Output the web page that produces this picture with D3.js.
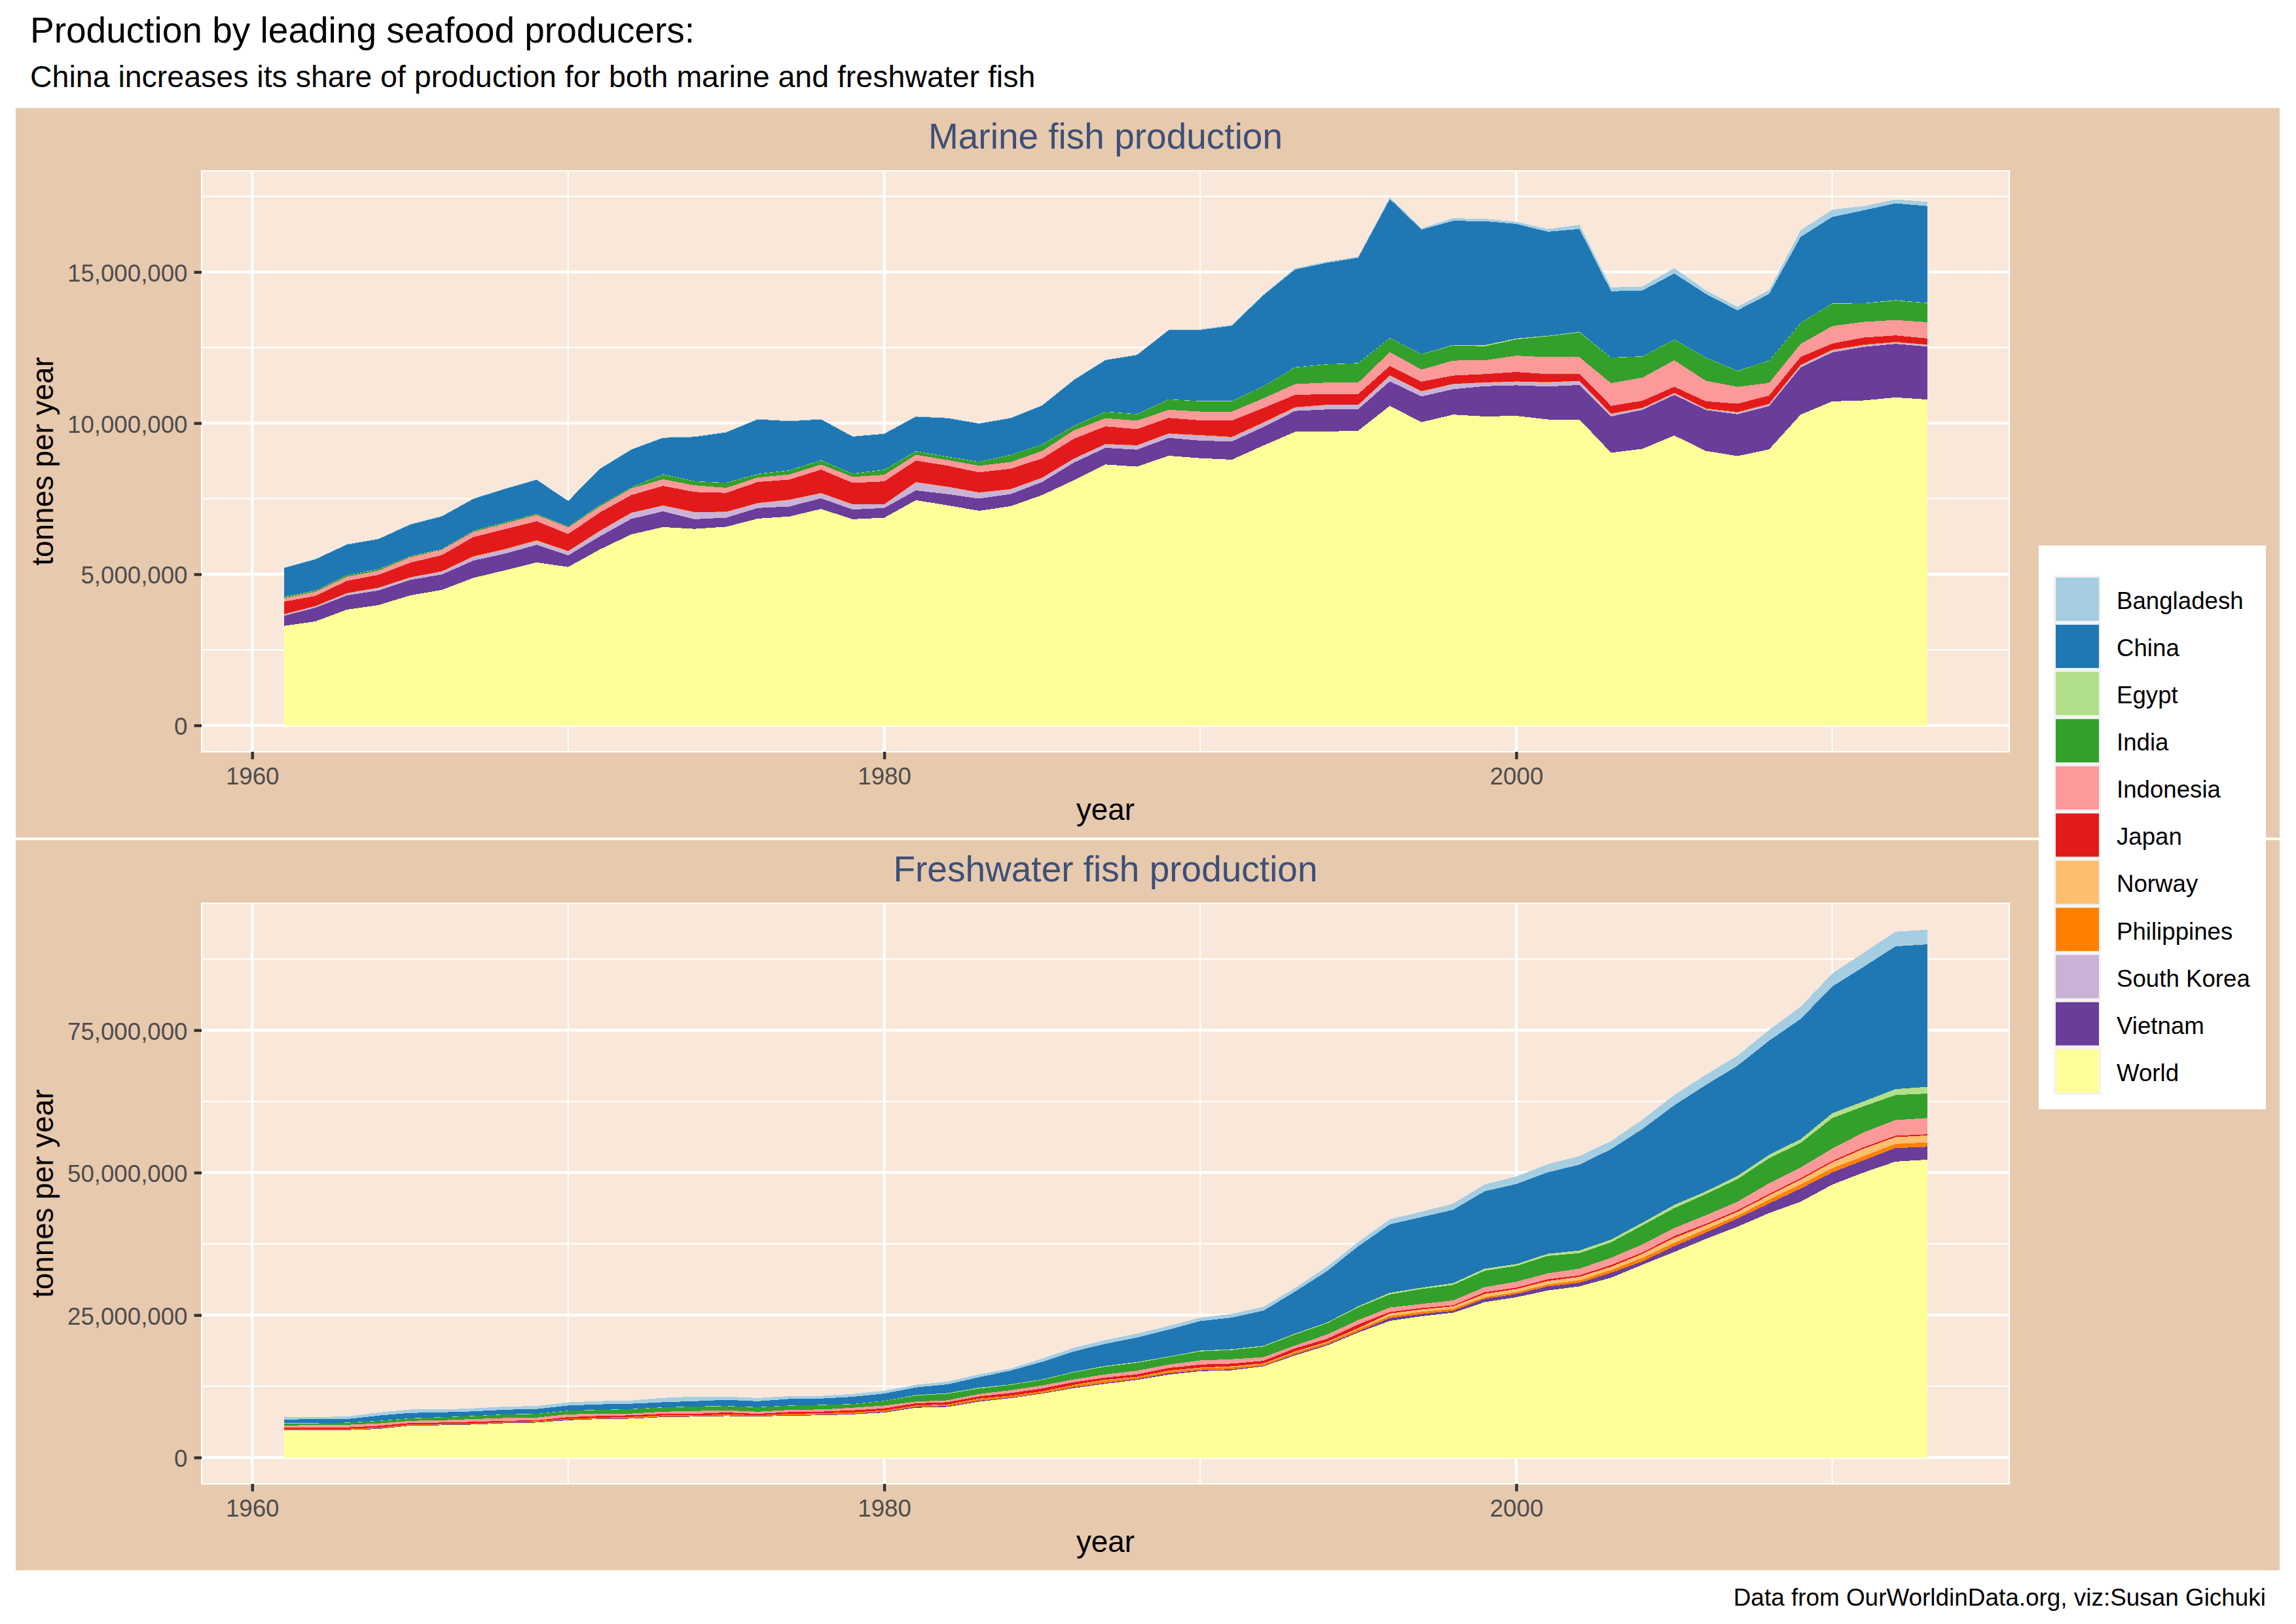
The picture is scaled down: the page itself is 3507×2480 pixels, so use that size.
<!DOCTYPE html>
<html>
<head>
<meta charset="utf-8">
<title>Seafood production</title>
<script src="https://cdnjs.cloudflare.com/ajax/libs/d3/7.8.5/d3.min.js"></script>
<style>
    body { margin: 0; background: #fff; }
    text { font-family: "Liberation Sans", Arial, sans-serif; }
    .area { shape-rendering: crispEdges; }
    .tick text { fill: #4D4D4D; font-size: 36.67px; }
    .tick line { stroke: #333; stroke-width: 4.4px; }
    .domain { display: none; }
</style>
</head>
<body>
<svg id="chart" width="3507" height="2480"></svg>
<script>
// Values, in million tonnes per year, 1961-2013
let years = d3.range(1961, 2014);

let countries = ["Bangladesh", "China", "Egypt", "India", "Indonesia", "Japan", "Norway", "Philippines", "South Korea", "Vietnam", "World"];

let marineWorld = [3.29,3.44,3.83,3.98,4.30,4.48,4.88,5.13,5.39,5.24,
    5.82,6.32,6.56,6.50,6.57,6.84,6.91,7.16,6.82,6.87,
    7.45,7.28,7.10,7.25,7.62,8.11,8.63,8.56,8.92,8.84,
    8.79,9.26,9.71,9.72,9.75,10.57,10.03,10.28,10.22,10.24,
    10.12,10.12,9.02,9.15,9.59,9.08,8.91,9.13,10.28,10.72,
    10.75,10.85,10.78];
let marineVietnam = [.33,.45,.47,.48,.51,.51,.57,.55,.58,.38,
    .43,.51,.52,.32,.30,.35,.33,.35,.32,.32,
    .32,.37,.40,.40,.43,.58,.55,.56,.59,.58,
    .60,.61,.69,.73,.71,.81,.85,.84,1.00,1.01,
    1.09,1.14,1.20,1.29,1.34,1.35,1.38,1.43,1.56,1.62,
    1.77,1.77,1.75];
let marineKorea = [.05,.05,.07,.09,.08,.10,.13,.14,.14,.14,
    .18,.20,.19,.23,.19,.16,.22,.17,.17,.12,
    .27,.24,.20,.16,.14,.13,.12,.14,.14,.17,
    .14,.14,.11,.15,.14,.19,.17,.17,.12,.12,
    .14,.13,.08,.06,.06,.04,.06,.07,.08,.07,
    .06,.05,.06];
let marinePhilippines = [.01,.01,.01,.01,.01,.01,.02,.02,.02,.01,
    .01,.01,.01,.01,.01,.01,.01,.01,.01,.01,
    .01,.01,.01,.01,.01,.01,.01,.01,.01,.02,
    .02,.02,.02,.01,.01,.01,.01,.01,.01,.01,
    .01,.01,.02,.01,.01,.02,.02,.01,.01,.02,
    .02,.02,.01];
let marineNorway = [0,0,0,0,0,0,0,0,0,0,
    0,0,0,0,0,0,0,0,0,0,
    0,0,0,0,0,0,0,0,0,0,
    0,0,0,0,0,0,0,0,0,0,
    0,0,0,0,0,0,0,0,0,0,
    0,0,0];
let marineJapan = [.41,.33,.40,.42,.48,.53,.63,.65,.62,.56,
    .60,.58,.64,.66,.62,.69,.66,.77,.70,.75,
    .71,.69,.66,.67,.63,.65,.58,.53,.51,.48,
    .53,.47,.40,.35,.35,.31,.31,.27,.27,.31,
    .26,.22,.25,.23,.20,.23,.27,.27,.26,.20,
    .23,.21,.20];
let marineIndonesia = [.12,.14,.14,.14,.18,.18,.17,.19,.21,.22,
    .20,.22,.22,.22,.17,.15,.17,.17,.20,.22,
    .19,.19,.22,.22,.25,.28,.27,.28,.27,.29,
    .30,.32,.36,.38,.38,.46,.40,.50,.46,.54,
    .56,.56,.75,.77,.88,.68,.56,.42,.43,.58,
    .52,.51,.54];
let marineIndia = [.03,.03,.04,.04,.03,.01,.03,.03,.03,.02,
    .03,.03,.16,.13,.16,.11,.13,.13,.10,.16,
    .11,.10,.12,.23,.21,.14,.21,.21,.34,.34,
    .34,.39,.55,.60,.64,.46,.50,.50,.46,.54,
    .69,.82,.84,.69,.68,.76,.52,.73,.69,.74,
    .61,.64,.63];
let marineEgypt = [.01,.01,.01,.01,.01,.01,.01,.01,.01,.01,
    .01,.01,.01,.01,.01,.01,.01,.01,.01,.01,
    .01,.01,.01,.01,.01,.01,.01,.01,.01,.01,
    .01,.01,.01,.01,.01,.01,.01,.02,.04,.03,
    .02,.02,.01,.01,.01,.01,.01,.01,.01,.01,
    .01,.02,.01];
let marineChina = [.95,1.03,1.01,.99,1.04,1.08,1.05,1.10,1.12,.84,
    1.20,1.24,1.20,1.46,1.66,1.80,1.62,1.35,1.22,1.18,
    1.14,1.27,1.26,1.21,1.28,1.51,1.70,1.95,2.28,2.35,
    2.49,3.01,3.23,3.35,3.48,4.59,4.12,4.10,4.10,3.79,
    3.44,3.40,2.19,2.18,2.18,2.10,2.00,2.20,2.84,2.86,
    3.07,3.20,3.20];
let marineBangladesh = [.02,.02,.02,.02,.02,.02,.02,.02,.02,.02,
    .02,.02,.02,.02,.02,.02,.02,.02,.02,.02,
    .02,.02,.02,.02,.02,.02,.02,.02,.02,.03,
    .03,.03,.04,.04,.04,.06,.05,.09,.08,.07,
    .09,.14,.13,.13,.18,.12,.12,.13,.22,.24,
    .14,.13,.14];

let freshWorld = [4.82,4.82,4.82,5.01,5.59,5.66,5.78,6.01,6.12,6.54,
    6.74,6.81,7.08,7.16,7.27,7.19,7.35,7.39,7.58,7.88,
    8.73,8.88,9.80,10.41,11.21,12.17,12.94,13.62,14.54,15.15,
    15.31,16.00,17.91,19.63,21.93,23.98,24.79,25.41,27.27,28.12,
    29.31,30.03,31.55,33.84,36.07,38.36,40.50,42.89,44.89,47.89,
    50.03,51.93,52.27];
let freshVietnam = [.11,.13,.11,.11,.11,.11,.08,.11,.08,.15,
    .08,.08,.11,.11,.11,.08,.11,.11,.11,.15,
    .15,.15,.15,.11,.08,.15,.15,.15,.23,.15,
    .15,.11,.19,.19,.19,.48,.38,.33,.57,.57,
    .71,.62,.86,.57,1.01,1.10,1.43,1.67,2.29,2.14,
    2.14,2.38,2.24];
let freshKorea = [.01,.01,.01,.01,.01,.01,.01,.01,.01,.01,
    .01,.01,.01,.01,.01,.01,.01,.01,.01,.01,
    .01,.01,.01,.01,.01,.01,.01,.01,.01,.01,
    .01,.01,.01,.01,.01,.01,.01,.01,.01,.01,
    .01,.01,.01,.01,.01,.01,.01,.01,.01,.01,
    .01,.01,.01];
let freshPhilippines = [.11,.11,.11,.15,.11,.11,.11,.11,.15,.11,
    .15,.23,.19,.11,.19,.15,.19,.27,.23,.23,
    .20,.24,.33,.26,.26,.34,.44,.28,.34,.34,
    .39,.26,.35,.31,.37,.33,.38,.33,.29,.29,
    .33,.43,.48,.62,.57,.57,.48,.71,.71,.71,
    .71,.71,.76];
let freshNorway = [0,0,0,0,0,0,0,0,0,0,
    0,0,0,0,0,0,0,0,0,0,
    .03,.03,.05,.05,.05,.08,.10,.10,.12,.12,
    .15,.12,.15,.15,.20,.48,.43,.43,.57,.57,
    .62,.62,.57,.71,.86,.71,.71,.71,.86,1.05,
    1.33,1.19,1.24];
let freshJapan = [.23,.19,.23,.27,.23,.23,.27,.19,.15,.27,
    .31,.27,.27,.27,.31,.23,.31,.27,.34,.34,
    .38,.38,.38,.46,.50,.46,.38,.42,.46,.54,
    .46,.46,.54,.50,.65,.24,.24,.19,.29,.24,
    .29,.24,.29,.24,.33,.24,.24,.24,.24,.24,
    .24,.24,.19];
let freshIndonesia = [.31,.46,.46,.42,.38,.42,.50,.50,.50,.50,
    .38,.31,.38,.50,.38,.38,.38,.38,.46,.50,
    .31,.34,.42,.50,.54,.50,.57,.65,.61,.73,
    .77,.65,.50,.77,.77,.81,.71,.86,.90,1.05,
    1.05,1.19,1.29,1.43,1.43,1.52,1.52,1.90,1.90,2.19,
    2.62,2.76,2.86];
let freshIndia = [.38,.27,.34,.42,.42,.50,.50,.61,.61,.61,
    .65,.76,.73,.76,.73,.76,.73,.76,.61,.80,
    1.03,1.15,.96,.92,.96,1.22,1.34,1.38,1.30,1.57,
    1.61,1.84,1.95,1.95,2.22,2.29,2.62,2.71,2.86,2.76,
    3.05,2.71,2.71,3.33,3.48,3.71,3.95,4.38,4.29,5.33,
    4.57,4.38,4.29];
let freshEgypt = [.04,.04,.04,.04,.04,.04,.04,.04,.04,.04,
    .04,.04,.04,.04,.04,.04,.04,.04,.04,.04,
    .11,.11,.15,.11,.11,.11,.15,.15,.11,.15,
    .15,.15,.15,.15,.19,.29,.24,.33,.38,.33,
    .38,.48,.48,.48,.57,.48,.57,.62,.67,.86,
    .86,1.05,1.19];
let freshChina = [.65,.69,.61,.92,.92,.84,.80,.80,.84,.88,
    .96,.92,.88,.92,1.07,1.03,1.15,1.11,1.26,1.26,
    1.34,1.53,1.84,2.41,3.06,3.56,3.87,4.29,4.71,5.17,
    5.55,6.16,7.35,8.99,10.52,12.00,12.38,12.86,13.57,14.05,
    14.29,15.05,15.86,16.43,17.48,18.67,19.33,20.00,21.10,22.24,
    23.62,25.05,25.00];
let freshBangladesh = [.46,.38,.46,.54,.61,.50,.54,.54,.54,.57,
    .57,.57,.77,.80,.57,.57,.50,.46,.50,.50,
    .46,.50,.50,.38,.57,.65,.65,.69,.65,.61,
    .65,.69,.65,.77,.77,.90,.95,1.10,1.19,1.33,
    1.43,1.52,1.43,1.67,1.81,1.81,1.76,1.90,2.14,2.29,
    2.48,2.57,2.57];

let marineSeries = [marineBangladesh, marineChina, marineEgypt, marineIndia, marineIndonesia, marineJapan,
    marineNorway, marinePhilippines, marineKorea, marineVietnam, marineWorld];
let freshSeries = [freshBangladesh, freshChina, freshEgypt, freshIndia, freshIndonesia, freshJapan,
    freshNorway, freshPhilippines, freshKorea, freshVietnam, freshWorld];

let xMajor = [1960, 1980, 2000];
let xMinor = [1970, 1990, 2010];
let marineMajor = [0, 5000000, 10000000, 15000000];
let marineMinor = [2500000, 7500000, 12500000, 17500000];
let freshMajor = [0, 25000000, 50000000, 75000000];
let freshMinor = [12500000, 37500000, 62500000, 87500000];

let colors = d3.schemePaired.slice(0, 11);
let panelColor = "#E7C9AD";
let plotColor = "#F9E8DA";

let svg = d3.select("#chart");

let color = d3.scaleOrdinal().domain(countries).range(colors);

let x = d3.scaleLinear().domain([1958.4, 2015.6]).range([308, 3069]);

// Outer background and the white line between the two facets
svg.append("rect").attr("x", 24).attr("y", 165).attr("width", 3458).attr("height", 2233).attr("fill", panelColor);
svg.append("rect").attr("x", 24).attr("y", 1279).attr("width", 3458).attr("height", 4).attr("fill", "#fff");

function drawPanel(opts) {
    let g = svg.append("g");
    let w = x.range()[1] - x.range()[0];

    let rows = years.map(function(year, i) {
        let row = { year: year };
        countries.forEach(function(c, k) { row[c] = opts.series[k][i] * 1e6; });
        return row;
    });

    // First legend entry sits on top of the stack, as in geom_area
    let stacked = d3.stack().keys(countries.slice().reverse())(rows);
    let top = d3.max(stacked[stacked.length - 1], function(d) { return d[1]; });

    let y = d3.scaleLinear()
        .domain([-top * 0.05, top * 1.05])
        .range([opts.bottom, opts.top]);

    g.append("rect")
        .attr("x", x.range()[0]).attr("y", opts.top)
        .attr("width", w).attr("height", opts.bottom - opts.top)
        .attr("fill", plotColor);

    // grid: minor lines thin, major lines thick
    function hLines(values, width) {
        g.selectAll(null).data(values).enter().append("line")
            .attr("x1", x.range()[0]).attr("x2", x.range()[1])
            .attr("y1", y).attr("y2", y)
            .attr("stroke", "#fff").attr("stroke-width", width);
    }
    function vLines(values, width) {
        g.selectAll(null).data(values).enter().append("line")
            .attr("y1", opts.top).attr("y2", opts.bottom)
            .attr("x1", x).attr("x2", x)
            .attr("stroke", "#fff").attr("stroke-width", width);
    }
    hLines(opts.minor, 2.2);
    vLines(xMinor, 2.2);
    hLines(opts.major, 4.4);
    vLines(xMajor, 4.4);

    let area = d3.area()
        .x(function(d) { return x(d.data.year); })
        .y0(function(d) { return y(d[0]); })
        .y1(function(d) { return y(d[1]); });

    g.selectAll(".area").data(stacked).enter().append("path")
        .attr("class", "area")
        .attr("fill", function(d) { return color(d.key); })
        .attr("d", area);

    g.append("rect")
        .attr("x", x.range()[0]).attr("y", opts.top)
        .attr("width", w).attr("height", opts.bottom - opts.top)
        .attr("fill", "none").attr("stroke", "#fff").attr("stroke-width", 2.2);

    // axes
    let xAxis = d3.axisBottom(x).tickValues(xMajor).tickFormat(d3.format("d")).tickSize(11.5).tickPadding(12);
    g.append("g").attr("transform", "translate(0," + opts.bottom + ")").call(xAxis);

    let yAxis = d3.axisLeft(y).tickValues(opts.major).tickFormat(d3.format(",")).tickSize(11.5).tickPadding(10);
    g.append("g").attr("transform", "translate(" + x.range()[0] + ",0)").call(yAxis)
        .selectAll("text").attr("dy", "0.38em");

    g.append("text")
        .attr("x", (x.range()[0] + x.range()[1]) / 2)
        .attr("y", opts.top - 34)
        .attr("text-anchor", "middle")
        .attr("fill", "#3C5078")
        .attr("font-size", 55)
        .text(opts.title);

    g.append("text")
        .attr("x", (x.range()[0] + x.range()[1]) / 2)
        .attr("y", opts.bottom + 104)
        .attr("text-anchor", "middle")
        .attr("fill", "#000")
        .attr("font-size", 45.83)
        .text("year");

    g.append("text")
        .attr("transform", "translate(81," + (opts.top + opts.bottom) / 2 + ") rotate(-90)")
        .attr("text-anchor", "middle")
        .attr("fill", "#000")
        .attr("font-size", 45.83)
        .text("tonnes per year");
}

drawPanel({ title: "Marine fish production", series: marineSeries, top: 261, bottom: 1148, major: marineMajor, minor: marineMinor });
drawPanel({ title: "Freshwater fish production", series: freshSeries, top: 1379.5, bottom: 2266, major: freshMajor, minor: freshMinor });

// Legend
let legend = svg.append("g");
legend.append("rect").attr("x", 3114).attr("y", 833).attr("width", 347).attr("height", 861).attr("fill", "#fff");

let keyY = d3.scaleBand().domain(countries).range([879, 1671.5]);

legend.selectAll(".key").data(countries).enter().append("rect")
    .attr("class", "key")
    .attr("x", 3137).attr("y", keyY)
    .attr("width", 72).attr("height", keyY.bandwidth())
    .attr("fill", "#F2F2F2");

legend.selectAll(".swatch").data(countries).enter().append("rect")
    .attr("class", "swatch")
    .attr("x", 3140).attr("y", function(d) { return keyY(d) + 3; })
    .attr("width", 66).attr("height", keyY.bandwidth() - 6)
    .attr("fill", color);

legend.selectAll(".label").data(countries).enter().append("text")
    .attr("class", "label")
    .attr("x", 3233)
    .attr("y", function(d) { return keyY(d) + keyY.bandwidth() / 2 + 2; })
    .attr("dy", "0.36em")
    .attr("font-size", 36.67)
    .attr("fill", "#000")
    .text(function(d) { return d; });

// Titles and caption
svg.append("text").attr("x", 46).attr("y", 65).attr("font-size", 55).attr("fill", "#000")
    .text("Production by leading seafood producers:");
svg.append("text").attr("x", 46).attr("y", 133).attr("font-size", 46.5).attr("fill", "#000")
    .text("China increases its share of production for both marine and freshwater fish");
svg.append("text").attr("x", 3461).attr("y", 2452).attr("font-size", 36.9).attr("fill", "#000")
    .attr("text-anchor", "end")
    .text("Data from OurWorldinData.org, viz:Susan Gichuki");
</script>
</body>
</html>
